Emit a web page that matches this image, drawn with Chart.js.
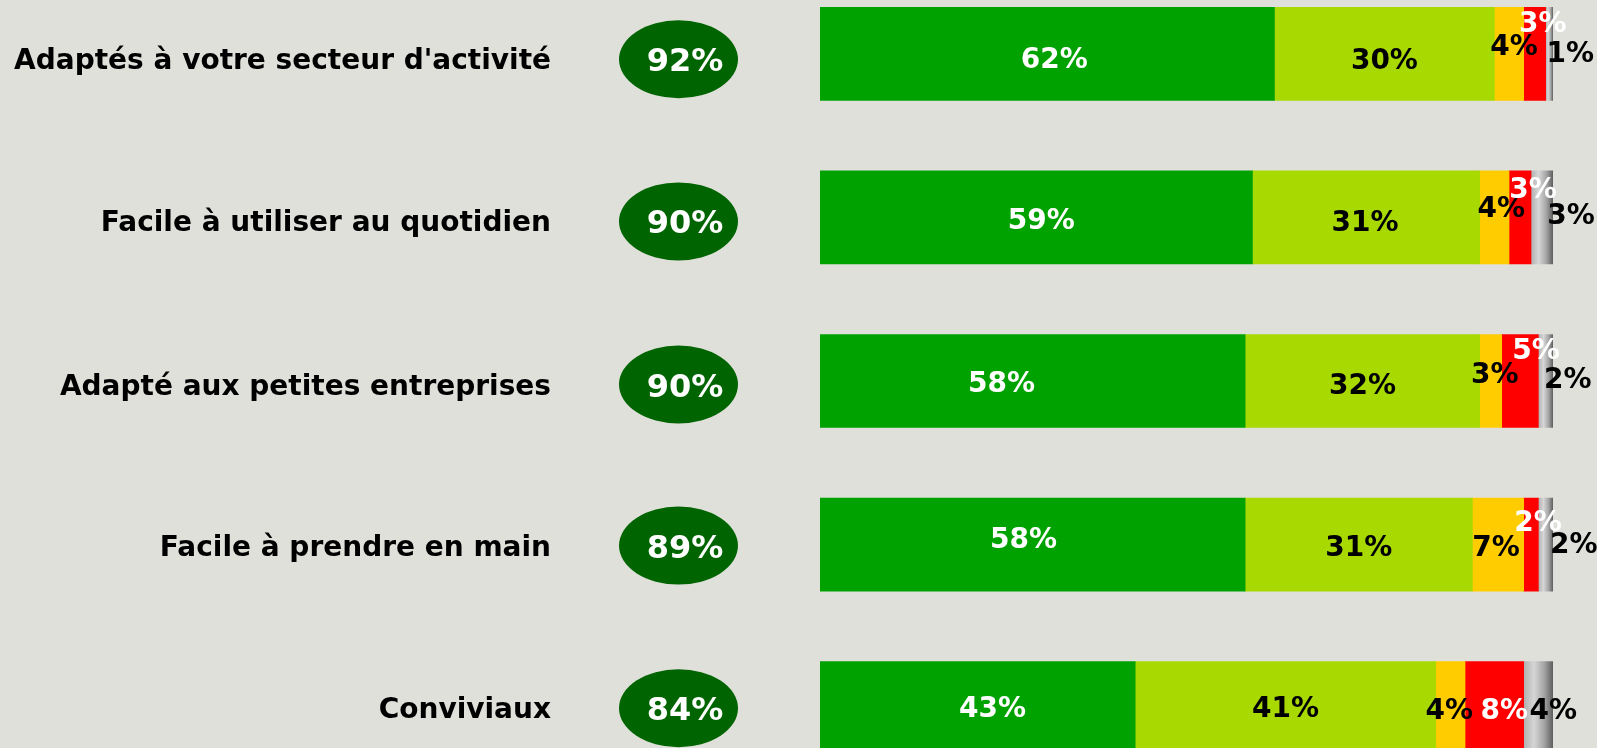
<!DOCTYPE html>
<html>
<head>
<meta charset="utf-8">
<script src="https://cdn.jsdelivr.net/npm/chart.js@4"></script>
<style>
  html, body { margin: 0; padding: 0; background: #dfe0da; overflow: hidden; }
  body { width: 1597px; height: 748px; position: relative; }
  #wrap { position: absolute; left: 0; top: -28px; width: 1597px; height: 818px; }
</style>
</head>
<body>
<div id="wrap"><canvas id="barres"></canvas></div>
<script>
const categories = [
    "Adaptés à votre secteur d'activité",
    "Facile à utiliser au quotidien",
    "Adapté aux petites entreprises",
    "Facile à prendre en main",
    "Conviviaux"
];
const tresBien = [62, 59, 58, 58, 43];
const plutotBien = [30, 31, 32, 31, 41];
const plutotMal = [4, 4, 3, 7, 4];
const tresMal = [3, 3, 5, 2, 8];
const nsp = [1, 3, 2, 2, 4];

// label offsets [dx, dy] from segment centre, per series and per bar
const labelOffsets = [
    [[7, 4], [5, 1.5], [-31, 0.5], [-9, -7], [15, -1.5]],
    [[0, 5.5], [-1, 3.5], [0, 2.5], [0, 1], [0, -1.5]],
    [[5, -8.5], [7, -10.5], [4, -8.5], [-2, 1], [-1, 0.5]],
    [[8, -31.5], [13, -29.5], [16, -32.5], [7, -24], [10, 0.5]],
    [[21, -1.5], [29, -3.5], [22, -3.5], [28, -2], [15, 0.5]]
];
const labelColors = ["#ffffff", "#000000", "#000000", "#ffffff", "#000000"];
const ellipseDy = [5.5, 4, 3.5, 1, 0];

const font = "bold 28px 'DejaVu Sans'";

const greyGradient = ctx => {
    const chart = ctx.chart;
    if (!chart.chartArea || ctx.type !== "data") return "#a0a0a0";
    const i = ctx.dataIndex;
    const start = tresBien[i] + plutotBien[i] + plutotMal[i] + tresMal[i];
    const x0 = chart.scales.x.getPixelForValue(start);
    const x1 = chart.scales.x.getPixelForValue(start + nsp[i]);
    const g = chart.ctx.createLinearGradient(x0, 0, x1, 0);
    g.addColorStop(0, "#b0b0b0");
    g.addColorStop(0.35, "#d6d6d6");
    g.addColorStop(0.7, "#a4a4a4");
    g.addColorStop(1, "#5e5e5e");
    return g;
};

const decorPlugin = {
    id: "decor",
    afterDatasetsDraw(chart) {
        const c = chart.ctx;
        const yScale = chart.scales.y;
        c.save();
        // segment labels
        chart.data.datasets.forEach((ds, s) => {
            const meta = chart.getDatasetMeta(s);
            meta.data.forEach((el, i) => {
                const off = labelOffsets[s][i];
                const cx = (el.x + el.base) / 2 + off[0];
                const cy = el.y + off[1];
                c.font = font;
                c.fillStyle = labelColors[s];
                c.textAlign = "center";
                c.textBaseline = "alphabetic";
                c.fillText(ds.data[i] + "%", cx, cy + 10);
            });
        });
        // left labels and ellipses
        categories.forEach((cat, i) => {
            const y = yScale.getPixelForValue(i) + ellipseDy[i];
            c.font = font;
            c.fillStyle = "#000000";
            c.textAlign = "right";
            c.fillText(cat, 551, y + 10);

            c.beginPath();
            c.ellipse(678.5, y, 59.5, 39, 0, 0, Math.PI * 2);
            c.fillStyle = "#006400";
            c.fill();

            c.font = "bold 32px 'DejaVu Sans'";
            c.fillStyle = "#ffffff";
            c.textAlign = "center";
            c.fillText((tresBien[i] + plutotBien[i]) + "%", 685, y + 12);
        });
        c.restore();
    }
};

let barres = new Chart(document.getElementById("barres"), {
    type: "bar",
    data: {
        labels: categories,
        datasets: [
            { data: tresBien, backgroundColor: "#00a200" },
            { data: plutotBien, backgroundColor: "#a8d900" },
            { data: plutotMal, backgroundColor: "#ffcc00" },
            { data: tresMal, backgroundColor: "#ff0000" },
            { data: nsp, backgroundColor: greyGradient }
        ]
    },
    options: {
        indexAxis: "y",
        responsive: true,
        maintainAspectRatio: false,
        animation: false,
        barThickness: 93,
        layout: { padding: { left: 820, right: 44, top: 0, bottom: 0 } },
        scales: {
            x: { stacked: true, min: 0, max: 100, display: false },
            y: { stacked: true, display: false }
        },
        plugins: {
            legend: { display: false },
            tooltip: { enabled: false }
        }
    },
    plugins: [decorPlugin]
});
</script>
</body>
</html>
